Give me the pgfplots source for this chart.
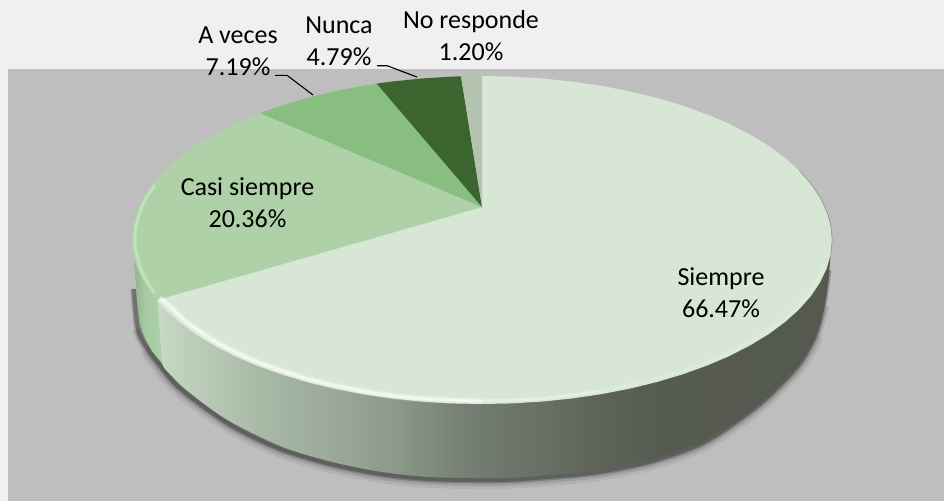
\documentclass[border=0pt]{standalone}
\usepackage{fontspec}
\setmainfont{Carlito}
\usepackage{pgfplots}
\usepackage{pgfplotstable}
\pgfplotsset{compat=1.18}

\definecolor{pagebg}{HTML}{F0F0F0}
\definecolor{plotbg}{HTML}{BEBEBE}
\definecolor{csiempre}{HTML}{D8E7D5}
\definecolor{ccasi}{HTML}{AFD1A8}
\definecolor{caveces}{HTML}{88BF80}
\definecolor{cnunca}{HTML}{3C642E}
\definecolor{cnoresp}{HTML}{B3C3B0}
\definecolor{rimgreen}{HTML}{C8F2C2}
\definecolor{rimlight}{HTML}{E4F4E0}

\definecolor{sa}{HTML}{C8DAC6}
\definecolor{sb}{HTML}{BCCDBA}
\definecolor{sc}{HTML}{ABBCA9}
\definecolor{sd}{HTML}{9AA998}
\definecolor{se}{HTML}{8A9888}
\definecolor{sf}{HTML}{747E72}
\definecolor{sg}{HTML}{686F64}
\definecolor{sh}{HTML}{5D6358}
\definecolor{si}{HTML}{565B50}
\definecolor{sj}{HTML}{55594F}
\definecolor{ca}{HTML}{94B690}
\definecolor{cb}{HTML}{A6CAA2}
\definecolor{cc}{HTML}{ACD0A8}

% front wall of the biggest slice, light at the left, dark at the right
% (tikz fits the path's box to the 25bp..75bp part of a shading)
\pgfdeclarehorizontalshading{sideshade}{100bp}{
  color(0bp)=(sa);
  color(25bp)=(sa);
  color(27.5bp)=(sb);
  color(32bp)=(sc);
  color(38bp)=(sd);
  color(43bp)=(se);
  color(48bp)=(sf);
  color(53.5bp)=(sg);
  color(58bp)=(sh);
  color(62.5bp)=(si);
  color(75bp)=(sj);
  color(100bp)=(sj)}
\pgfdeclarehorizontalshading{casishade}{100bp}{
  color(0bp)=(ca);
  color(25bp)=(ca);
  color(45bp)=(cb);
  color(75bp)=(cc);
  color(100bp)=(cc)}

% shadow line under the wall, three lengths so that it tapers at both ends
\pgfplotstableread{
x y
148 349
160 365
181 389
231 425
281 449
331 464
381 474
431 479
498 480
548 477
598 472
648 462
698 445
731 425
765 399
798 365
815 335
}\shadowwide

\pgfplotstableread{
x y
138 329
148 349
160 365
181 389
231 425
281 449
331 464
381 474
431 479
498 480
548 477
598 472
648 462
698 445
731 425
765 399
798 365
815 335
823 305
}\shadowmid

\pgfplotstableread{
x y
134 289
138 329
148 349
160 365
181 389
231 425
281 449
331 464
381 474
431 479
498 480
548 477
598 472
648 462
698 445
731 425
765 399
798 365
815 335
823 305
828 270
}\shadownarrow

\pgfplotstableread{
x y
482 207
482 76
512.5 76.6
542.8 78.5
572.6 81.6
601.7 85.9
629.9 91.4
657 98
682.8 105.7
707 114.4
729.5 124
750.1 134.6
768.7 145.9
785.1 158
799.2 170.7
810.9 183.9
820.1 197.6
826.7 211.5
830.7 225.7
832 240
830.7 254.3
826.7 268.5
820.1 282.4
810.9 296.1
799.2 309.3
785.1 322
768.7 334.1
750.1 345.4
729.5 356
707 365.6
682.8 374.3
657 382
629.9 388.6
601.7 394.1
572.6 398.4
542.8 401.5
512.5 403.4
482 404
451.5 403.4
421.2 401.5
391.4 398.4
362.3 394.1
334.1 388.6
307 382
281.2 374.3
257 365.6
234.5 356
213.9 345.4
195.3 334.1
178.9 322
164.8 309.3
157 300
}\siempre

\pgfplotstableread{
x y
482 207
157 300
153.1 296.1
143.9 282.4
137.3 268.5
133.3 254.3
132 240
133.3 225.7
137.3 211.5
143.9 197.6
153.1 183.9
164.8 170.7
178.9 158
195.3 145.9
213.9 134.6
234.5 124
257 114.4
260 113
}\casi

\pgfplotstableread{
x y
482 207
260 113
281.2 105.7
307 98
334.1 91.4
362.3 85.9
376.7 83.6
}\aveces

\pgfplotstableread{
x y
482 207
376.7 83.6
391.4 81.6
421.2 78.5
451.5 76.6
461 76.3
}\nunca

\pgfplotstableread{
x y
482 207
461 76.3
471 76
482 76
}\noresp

% just inside the rim, front part
\pgfplotstableread{
x y
601 391
572 395
543 398.5
512 400
482 401
451 400
421 398.5
391.5 395.5
363 391
335 385.5
308 379
283 371
259 362.5
237 353
217 342.5
199 331
183 319
170 306.5
160 298
}\rimfront

\pgfplotstableread{
x y
482 401
451 400
421 398.5
391.5 395.5
363 391
335 385.5
308 379
283 371
259 362.5
237 353
217 342.5
199 331
183 319
170 306.5
160 298
}\rimleft

\pgfplotstableread{
x y
155 293
146 280
140 266
136 252
135 240
136 226
140 212
146 198
155 185
}\rimcasi

\begin{document}
\begin{tikzpicture}
\begin{axis}[
    width=944pt,
    height=501pt,
    scale only axis,
    hide axis,
    xmin=0, xmax=944,
    ymin=0, ymax=501,
    y dir=reverse,
    enlargelimits=false,
]
% page and plot area
\addplot[fill=pagebg, draw=none] coordinates {(0,0) (944,0) (944,501) (0,501)} -- cycle;
\addplot[fill=plotbg, draw=none] coordinates {(8,69) (944,69) (944,501) (8,501)} -- cycle;

% soft shadow under the wall
\addplot[draw=black, opacity=0.06, line width=18pt, line join=round, smooth] table {\shadowwide};
\addplot[draw=black, opacity=0.1, line width=12pt, line join=round, smooth] table {\shadowmid};
\addplot[draw=black, opacity=0.2, line width=7pt, line join=round, smooth] table {\shadownarrow};
\addplot[draw=black, opacity=0.25, line width=4pt, line join=round, smooth] table {\shadownarrow};

% walls
\addplot[shading=sideshade, draw=none, smooth] coordinates {
    (157,298) (159.5,330) (162,363) (171,375) (183,387) (207,406) (233,423) (283,447) (333,462) (383,472)
    (433,477) (500,478) (550,475) (600,470) (650,460) (700,443) (733,423)
    (767,397) (800,363) (817,333) (825,303) (830,262) (828,245) (800,225) (600,225) (300,260) (175,292)} -- cycle;
\addplot[shading=casishade, draw=none] coordinates {
    (134.5,262) (135.5,280) (137,300) (140,322) (145,338) (152,351) (162,363) (157,298)} -- cycle;

% top face
\addplot[fill=csiempre, draw=none] table {\siempre} -- cycle;
\addplot[fill=ccasi, draw=none] table {\casi} -- cycle;
\addplot[fill=caveces, draw=none] table {\aveces} -- cycle;
\addplot[fill=cnunca, draw=none] table {\nunca} -- cycle;
\addplot[fill=cnoresp, draw=none] table {\noresp} -- cycle;

% rim highlights
\addplot[draw=rimlight, opacity=0.45, line width=3pt, line join=round, smooth] coordinates {
    (824,268) (808,295) (783,320) (748,343) (705,363) (656,379) (601,391) (572,395) (543,398.5) (512,400) (482,401)};
\addplot[draw=white, opacity=0.18, line width=7pt, line join=round, smooth] table {\rimleft};
\addplot[draw=white, opacity=0.25, line width=4.5pt, line join=round, smooth] table {\rimleft};
\addplot[draw=white, opacity=0.25, line width=3pt, line join=round, smooth] table {\rimfront};
\addplot[draw=white, opacity=0.4, line width=2pt, line join=round, smooth] table {\rimleft};
\addplot[draw=rimgreen, opacity=0.35, line width=4pt, line join=round, smooth] table {\rimcasi};
\addplot[draw=rimgreen, opacity=0.5, line width=1.5pt, line join=round, smooth] table {\rimcasi};
\addplot[draw=black!70, opacity=0.4, line width=0.7pt, line join=round, smooth] coordinates {
    (799.2,170.7) (810.9,183.9) (820.1,197.6) (826.7,211.5) (830.7,225.7) (832,240) (830.7,254.3)};

% leader lines
\addplot[draw=black, line width=1.1pt] coordinates {(275,75.3) (287,75.3) (313,95)};
\addplot[draw=black, line width=1.1pt] coordinates {(377,65.7) (387,65.7) (417,77)};

% labels
\node[align=center, font=\fontsize{26}{32}\selectfont] at (axis cs:238,51) {A veces\\7.19\%};
\node[align=center, font=\fontsize{26}{32}\selectfont] at (axis cs:339,41) {Nunca\\4.79\%};
\node[align=center, font=\fontsize{26}{32}\selectfont] at (axis cs:471,35.5) {No responde\\1.20\%};
\node[align=center, font=\fontsize{26}{32}\selectfont] at (axis cs:247.5,203) {Casi siempre\\20.36\%};
\node[align=center, font=\fontsize{26}{32}\selectfont] at (axis cs:721,293) {Siempre\\66.47\%};
\end{axis}
\end{tikzpicture}
\end{document}
